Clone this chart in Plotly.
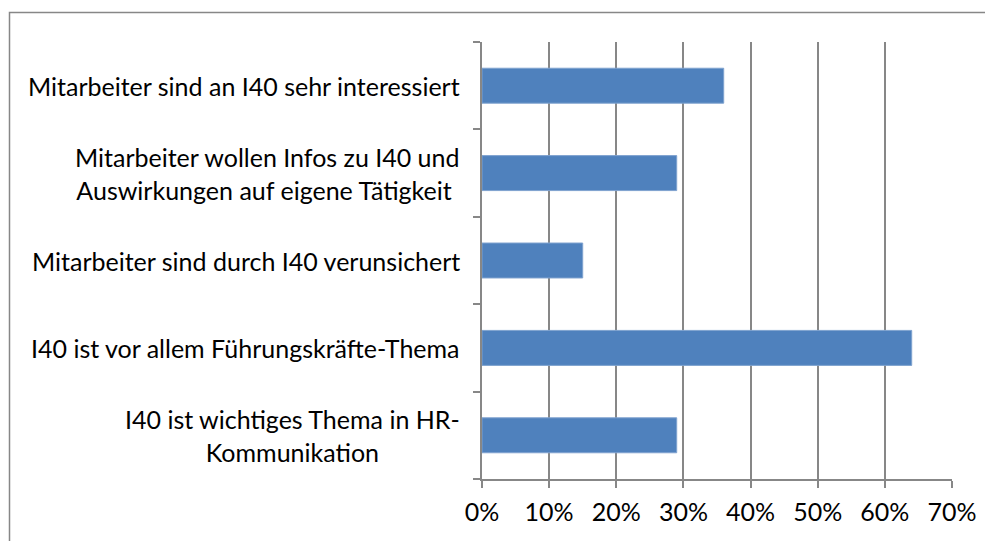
import plotly.graph_objects as go

# categories, top to bottom as in the chart
labels = [
    "Mitarbeiter sind an I40 sehr interessiert",
    "Mitarbeiter wollen Infos zu I40 und<br>Auswirkungen auf eigene Tätigkeit ",
    "Mitarbeiter sind durch I40 verunsichert",
    "I40 ist vor allem Führungskräfte-Thema",
    "I40 ist wichtiges Thema in HR-<br>Kommunikation",
]
shares = [0.36, 0.29, 0.15, 0.64, 0.29]
x_ticks = [0, 0.1, 0.2, 0.3, 0.4, 0.5, 0.6, 0.7]

# page has an 8px body margin, so the figure is sized to end at the window edge
W, H = 985, 533
ML, MR, MT, MB = 474, 41, 34, 62
GREY = "#878787"
FONT = "Lato, Open Sans, sans-serif"
FSIZE = 25

fig = go.Figure()
fig.add_trace(
    go.Bar(
        x=shares,
        y=list(range(len(labels))),
        orientation="h",
        marker=dict(color="#4F81BD", line=dict(color="#7FA2CF", width=1)),
        width=0.4,
        hoverinfo="x",
    )
)

# category labels as annotations so multi-line text is centered like Excel
for i, lab in enumerate(labels):
    fig.add_annotation(
        x=0, xref="paper", xanchor="right", xshift=-20,
        y=i, yref="y", yanchor="middle",
        text=lab, align="center", showarrow=False,
        font=dict(size=FSIZE, color="#000000", family=FONT),
    )

# outer chart border (right and bottom edges fall outside the picture)
pw = W - ML - MR
ph = H - MT - MB
fig.add_shape(
    type="rect", xref="paper", yref="paper",
    x0=(1.5 - ML) / pw, x1=(995 - ML) / pw,
    y0=(H - MB - 545) / ph, y1=(H - MB - 4.5) / ph,
    line=dict(color=GREY, width=1.5), fillcolor="rgba(0,0,0,0)",
    layer="below",
)

fig.update_layout(
    width=W, height=H,
    margin=dict(l=ML, r=MR, t=MT, b=MB),
    paper_bgcolor="white", plot_bgcolor="white",
    showlegend=False,
    font=dict(family=FONT, size=FSIZE, color="#000000"),
    xaxis=dict(
        range=[0, 0.7], tickvals=x_ticks, tickformat=".0%",
        showgrid=True, gridcolor=GREY, gridwidth=1.8,
        showline=True, linecolor=GREY, linewidth=2,
        ticks="outside", ticklen=7, tickcolor=GREY, tickwidth=2,
        zeroline=False, ticklabelstandoff=3,
    ),
    yaxis=dict(
        range=[4.5, -0.5], tickmode="array",
        tickvals=[-0.5, 0.5, 1.5, 2.5, 3.5, 4.5],
        ticktext=[""] * 6,
        showgrid=False, zeroline=False,
        showline=True, linecolor=GREY, linewidth=2,
        ticks="outside", ticklen=7, tickcolor=GREY, tickwidth=2,
    ),
)

fig.write_html("out.html")
